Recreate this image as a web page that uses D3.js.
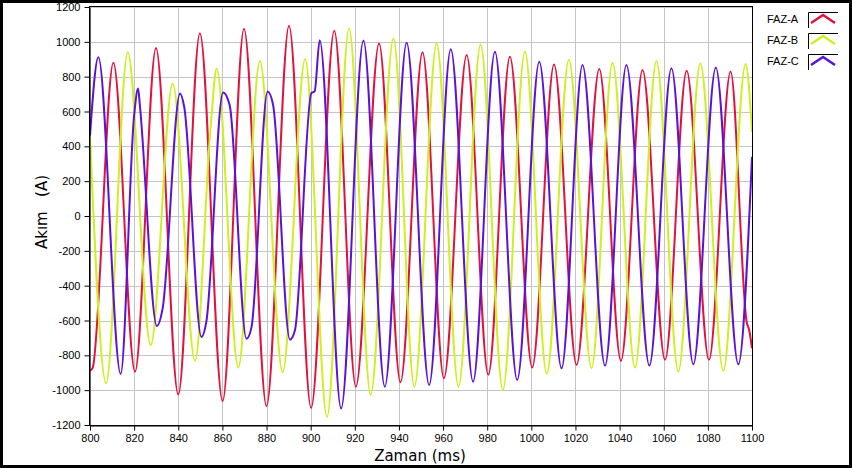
<!DOCTYPE html>
<html><head><meta charset="utf-8">
<script src="https://cdn.jsdelivr.net/npm/d3@7"></script>
<style>
body{margin:0;background:#fff;}
svg{display:block;}
</style></head><body>
<svg id="c" width="852" height="468"></svg>
<script>
// ---- data (time in ms, current in A) ----
const seriesNames = ["FAZ-A", "FAZ-B", "FAZ-C"];
const xTicks = [800,820,840,860,880,900,920,940,960,980,1000,1020,1040,1060,1080,1100];
const yTicks = [-1200,-1000,-800,-600,-400,-200,0,200,400,600,800,1000,1200];

const tA = [800.0,801.2,810.6,820.4,829.9,840.0,849.8,860.1,869.8,880.0,890.2,900.2,910.7,920.5,931.0,940.7,950.7,960.4,970.7,980.5,990.3,1000.4,1010.3,1020.5,1030.8,1040.6,1050.4,1060.6,1070.4,1080.5,1090.3,1097.6,1098.8,1100];
const iA = [-888,-872,880,-894,965,-1025,1049,-1063,1075,-1092,1092,-1102,1064,-980,991,-955,940,-932,924,-912,915,-870,870,-855,844,-832,838,-826,834,-826,829,-610,-660,-760];

const tB = [800.0,807.3,817.1,827.5,837.5,847.6,854.6,857.4,867.2,877.0,887.3,897.5,907.4,917.4,927.2,937.5,947.0,957.1,967.0,977.0,987.1,997.1,1007.0,1017.0,1027.3,1036.8,1047.0,1056.7,1066.6,1076.6,1087.0,1097.1,1100];
const iB = [454,-960,940,-742,761,-831,500,846,-870,890,-897,901,-1154,1077,-1027,1020,-980,991,-980,985,-999,943,-907,897,-874,880,-870,890,-893,876,-889,873,483];

const tC = [800.0,803.8,813.9,820.0,821.8,822.6,830.3,832.9,840.8,842.7,850.5,852.7,860.3,863.3,870.9,873.2,880.5,883.0,890.6,892.9,900.3,901.8,904.1,913.8,923.9,933.6,943.5,953.7,963.5,973.6,983.5,993.6,1003.6,1013.7,1023.2,1033.4,1043.1,1053.5,1063.5,1073.4,1083.6,1093.8,1100];
const iC = [463,911,-907,578,732,636,-632,-532,703,626,-695,-609,709,636,-705,-638,715,636,-710,-655,705,716,1009,-1105,1007,-980,995,-970,957,-951,943,-941,886,-874,867,-859,867,-859,848,-851,853,-851,340];

const colors = ["#e0123e", "#ccf020", "#5a12d8"];

// ---- chart ----
const svg = d3.select("#c");
const L = 90, R = 752, T = 7, B = 425;
const x = d3.scaleLinear().domain([800,1100]).range([L,R]);
const y = d3.scaleLinear().domain([-1200,1200]).range([B,T]);

// grid
const g = svg.append("g");
g.selectAll(".vx").data(xTicks).join("line")
  .attr("x1", d=>Math.round(x(d))+0.5).attr("x2", d=>Math.round(x(d))+0.5)
  .attr("y1", T).attr("y2", B).attr("stroke", "#c4c4c4").attr("stroke-width",1);
g.selectAll(".hy").data(yTicks).join("line")
  .attr("y1", d=>Math.round(y(d))+0.5).attr("y2", d=>Math.round(y(d))+0.5)
  .attr("x1", L).attr("x2", R).attr("stroke", "#c4c4c4").attr("stroke-width",1);

// series
const series = [[tA,iA],[tB,iB],[tC,iC]];
const line = d3.line().x(d=>x(d[0])).y(d=>y(d[1])).curve(d3.curveMonotoneX);
svg.append("defs").append("clipPath").attr("id","clip")
  .append("rect").attr("x",L).attr("y",T).attr("width",R-L).attr("height",B-T);
const lg = svg.append("g").attr("clip-path","url(#clip)");
series.forEach((s,k)=>{
  const pts = s[0].map((t,i)=>[t, s[1][i]]);
  lg.append("path").datum(pts).attr("d", line)
    .attr("fill","none").attr("stroke", colors[k]).attr("stroke-width",2)
    .attr("stroke-linejoin","round");
});

// plot border
svg.append("rect").attr("x",L-0.5).attr("y",T-0.5).attr("width",R-L+1).attr("height",B-T+1)
  .attr("fill","none").attr("stroke","#000").attr("stroke-width",1);

// axes
const fontFam = "'Liberation Sans', Arial, sans-serif";
const ax = svg.append("g").attr("transform",`translate(0,${B+0.5})`)
  .call(d3.axisBottom(x).tickValues(xTicks).tickFormat(d3.format("d")).tickSize(5).tickPadding(4).tickSizeOuter(0));
const ay = svg.append("g").attr("transform",`translate(${L-0.5},0)`)
  .call(d3.axisLeft(y).tickValues(yTicks).tickFormat(d=>d3.format("d")(d).replace("−","-")).tickSize(5).tickPadding(4).tickSizeOuter(0));
[ax,ay].forEach(a=>{
  a.selectAll("text").attr("font-family",fontFam).attr("font-size","11px").attr("fill","#000");
  a.selectAll("line").attr("stroke","#000");
  a.select(".domain").attr("stroke","#000");
});

// titles
svg.append("text").attr("x",(L+R)/2 - 1).attr("y",461)
  .attr("text-anchor","middle").attr("font-family","'DejaVu Sans', Verdana, sans-serif")
  .attr("font-size","15px").attr("fill","#000").text("Zaman (ms)");
svg.append("text").attr("transform","translate(47,212) rotate(-90)")
  .attr("text-anchor","middle").attr("font-family","'DejaVu Sans', Verdana, sans-serif")
  .attr("font-size","15px").attr("fill","#000").style("white-space","pre").text("Akım   (A)");

// legend
seriesNames.forEach((n,k)=>{
  const yy = 12 + k*21;
  svg.append("text").attr("x",767).attr("y",yy+11).attr("font-family",fontFam)
    .attr("font-size","11px").attr("fill","#000").text(n);
  svg.append("path").attr("d",`M808.5,${yy+16}V${yy+0.5}H838`).attr("fill","none").attr("stroke","#000").attr("stroke-width",1);
  svg.append("path").attr("d",`M811,${yy+11}L823,${yy+3}L835,${yy+11}`).attr("fill","none")
    .attr("stroke",colors[k]).attr("stroke-width",2.5);
});

// outer frame
svg.append("rect").attr("x",1.5).attr("y",1.5).attr("width",849).attr("height",465)
  .attr("fill","none").attr("stroke","#000").attr("stroke-width",3);
</script>
</body></html>
